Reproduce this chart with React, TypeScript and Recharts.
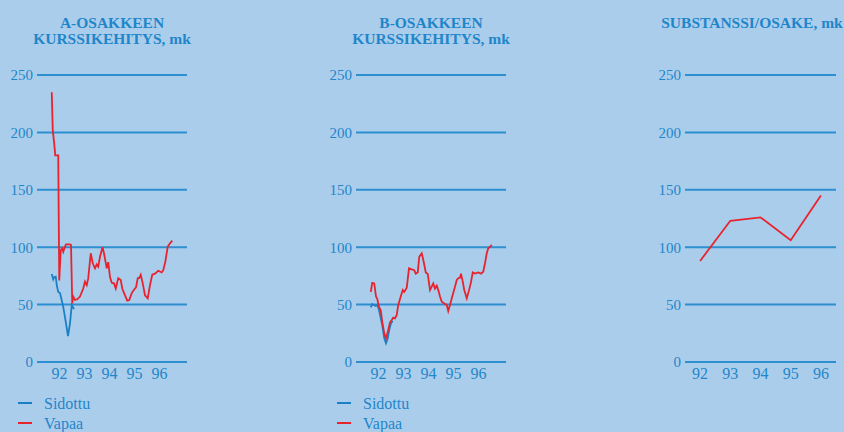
import React from "react";
import { LineChart, Line, XAxis, YAxis, CartesianGrid } from "recharts";

// ---- data ----
const yTicks = [0, 50, 100, 150, 200, 250];
const yearTicks = [92, 93, 94, 95, 96];

// A-osake, vapaa (t = year, v = mk)
const aVapaaT = [91.69, 91.73, 91.79, 91.83, 91.95, 91.99, 92.05, 92.11, 92.15, 92.22, 92.26, 92.42, 92.46, 92.51, 92.55, 92.62, 92.71, 92.82, 92.95, 93.02, 93.09, 93.15, 93.25, 93.33, 93.42, 93.49, 93.55, 93.62, 93.72, 93.78, 93.89, 93.95, 94.02, 94.09, 94.18, 94.25, 94.35, 94.45, 94.51, 94.62, 94.71, 94.79, 94.89, 94.98, 95.06, 95.13, 95.19, 95.25, 95.33, 95.42, 95.53, 95.62, 95.71, 95.82, 95.95, 96.09, 96.15, 96.23, 96.33, 96.42, 96.51];
const aVapaaV = [235, 202, 190, 180, 180, 71, 97.5, 99, 96, 100.5, 102.5, 102.5, 102, 51, 57, 54, 54.6, 57, 64, 70, 67, 73, 94.7, 86, 81.6, 85, 83, 91.7, 100, 94.7, 81.6, 87, 74, 69, 68.5, 64, 73, 71.4, 64, 58, 53.4, 54, 60, 63, 65, 73, 73, 76, 68.5, 58, 55.5, 67, 76, 77, 79.5, 78, 80, 87, 100.5, 103.4, 105.7];

// A-osake, sidottu
const aSidottuT = [91.69, 91.75, 91.79, 91.85, 91.89, 91.95, 92.02, 92.15, 92.26, 92.34, 92.42, 92.49, 92.53, 92.58];
const aSidottuV = [76.7, 72, 73.8, 74.3, 67, 61, 60, 48, 33.7, 22.6, 33.7, 49.6, 48, 46];

// B-osake, vapaa
const bVapaaT = [91.69, 91.75, 91.83, 91.9, 91.95, 92.02, 92.09, 92.15, 92.23, 92.3, 92.39, 92.46, 92.53, 92.59, 92.66, 92.73, 92.79, 92.89, 92.97, 93.03, 93.13, 93.22, 93.33, 93.43, 93.49, 93.57, 93.63, 93.73, 93.82, 93.89, 93.97, 94.06, 94.13, 94.19, 94.26, 94.33, 94.39, 94.46, 94.53, 94.63, 94.73, 94.79, 94.86, 94.95, 95.06, 95.13, 95.19, 95.26, 95.3, 95.37, 95.43, 95.53, 95.59, 95.69, 95.77, 95.86, 95.99, 96.1, 96.19, 96.26, 96.33, 96.39, 96.49, 96.53];
const bVapaaV = [61, 69, 68.5, 57, 55, 48, 45, 35, 25, 20.6, 28, 34.6, 36.6, 38.6, 38, 41, 49.7, 57, 62.7, 61, 64.7, 81.6, 80.7, 80, 77, 78, 91.7, 94.7, 86, 78, 76.7, 62.7, 65.6, 68.5, 64, 66.5, 62.7, 57, 52.5, 51, 49.7, 44.4, 49.7, 57, 65.6, 71.4, 73, 73.4, 77, 70, 62.7, 55.5, 60, 68.5, 78, 77, 78, 77, 78.7, 86, 94.7, 99, 101, 102];

// B-osake, sidottu
const bSidottuT = [91.69, 91.75, 91.82, 91.89, 91.95, 92.02, 92.09, 92.15, 92.23, 92.3, 92.37, 92.43, 92.5, 92.57];
const bSidottuV = [47.6, 50.3, 49.7, 48.8, 49.7, 45.3, 38, 32.2, 20.6, 16.3, 20.6, 28, 33.7, 35.7];

// Substanssi / osake
const substYears = [92, 93, 94, 95, 96];
const substValues = [88, 123, 126, 106, 145];

// ---- styles ----
const BG = "#abcdec";
const TEXT = "#1f86c9";
const GRID = "#2d8ed0";
const BLUE = "#1a80c6";
const RED = "#e8232e";
const FONT = "'Liberation Serif', 'Times New Roman', serif";

const toSeries = (t: number[], v: number[]) => t.map((x, i) => ({ t: x, v: v[i] }));

type PanelProps = {
  left: number;
  series: { data: { t: number; v: number }[]; color: string; name: string }[];
  domain: [number, number];
  rightMargin: number;
};

function Panel({ left, series, domain, rightMargin }: PanelProps) {
  return (
    <div style={{ position: "absolute", left, top: 0 }}>
      <LineChart
        width={200}
        height={400}
        margin={{ top: 75, right: rightMargin, left: 0, bottom: 8 }}
      >
        <CartesianGrid
          vertical={false}
          stroke={GRID}
          strokeWidth={2}
          horizontalValues={yTicks}
        />
        <XAxis
          type="number"
          dataKey="t"
          domain={domain}
          ticks={yearTicks}
          allowDataOverflow
          height={30}
          axisLine={false}
          tickLine={false}
          tickSize={0}
          tickMargin={6}
          interval={0}
          tick={{ fill: TEXT, fontSize: 16, fontFamily: FONT }}
        />
        <YAxis
          type="number"
          domain={[0, 250]}
          ticks={yTicks}
          width={37}
          axisLine={false}
          tickLine={false}
          tickSize={0}
          tickMargin={4}
          interval={0}
          tick={{ fill: TEXT, fontSize: 15, fontFamily: FONT }}
        />
        {series.map((s) => (
          <Line
            key={s.name}
            data={s.data}
            dataKey="v"
            type="linear"
            stroke={s.color}
            strokeWidth={1.8}
            dot={false}
            isAnimationActive={false}
          />
        ))}
      </LineChart>
    </div>
  );
}

function Legend({ left }: { left: number }) {
  const items = [
    { label: "Sidottu", color: BLUE, y: 403 },
    { label: "Vapaa", color: RED, y: 423 },
  ];
  return (
    <svg
      style={{ position: "absolute", left, top: 0 }}
      width={120}
      height={432}
    >
      {items.map((it) => (
        <g key={it.label}>
          <line x1={18} x2={32} y1={it.y} y2={it.y} stroke={it.color} strokeWidth={2} />
          <text x={44} y={it.y + 6} fill={TEXT} fontSize={16} fontFamily={FONT}>
            {it.label}
          </text>
        </g>
      ))}
    </svg>
  );
}

function Title({ lines, cx }: { lines: string[]; cx: number }) {
  return (
    <svg style={{ position: "absolute", left: 0, top: 0 }} width={844} height={60}>
      {lines.map((l, i) => (
        <text
          key={i}
          x={cx}
          y={28 + i * 15.5}
          textAnchor="middle"
          fill={TEXT}
          fontSize={15.5}
          fontWeight="bold"
          fontFamily={FONT}
        >
          {l}
        </text>
      ))}
    </svg>
  );
}

export default function App() {
  const aData = [
    { name: "Sidottu", color: BLUE, data: toSeries(aSidottuT, aSidottuV) },
    { name: "Vapaa", color: RED, data: toSeries(aVapaaT, aVapaaV) },
  ];
  const bData = [
    { name: "Sidottu", color: BLUE, data: toSeries(bSidottuT, bSidottuV) },
    { name: "Vapaa", color: RED, data: toSeries(bVapaaT, bVapaaV) },
  ];
  const cData = [
    { name: "Substanssi", color: RED, data: toSeries(substYears, substValues) },
  ];
  return (
    <div
      style={{
        position: "absolute",
        left: 0,
        top: 0,
        width: 844,
        height: 432,
        background: BG,
        overflow: "hidden",
        fontFamily: FONT,
      }}
    >
      <Panel left={0} series={aData} domain={[91.1, 97.1]} rightMargin={13} />
      <Panel left={319} series={bData} domain={[91.1, 97.1]} rightMargin={13} />
      <Panel left={648} series={cData} domain={[91.5, 96.5]} rightMargin={12} />
      <Title lines={["A-OSAKKEEN", "KURSSIKEHITYS, mk"]} cx={112} />
      <Title lines={["B-OSAKKEEN", "KURSSIKEHITYS, mk"]} cx={431} />
      <Title lines={["SUBSTANSSI/OSAKE, mk"]} cx={752} />
      <Legend left={0} />
      <Legend left={319} />
    </div>
  );
}
